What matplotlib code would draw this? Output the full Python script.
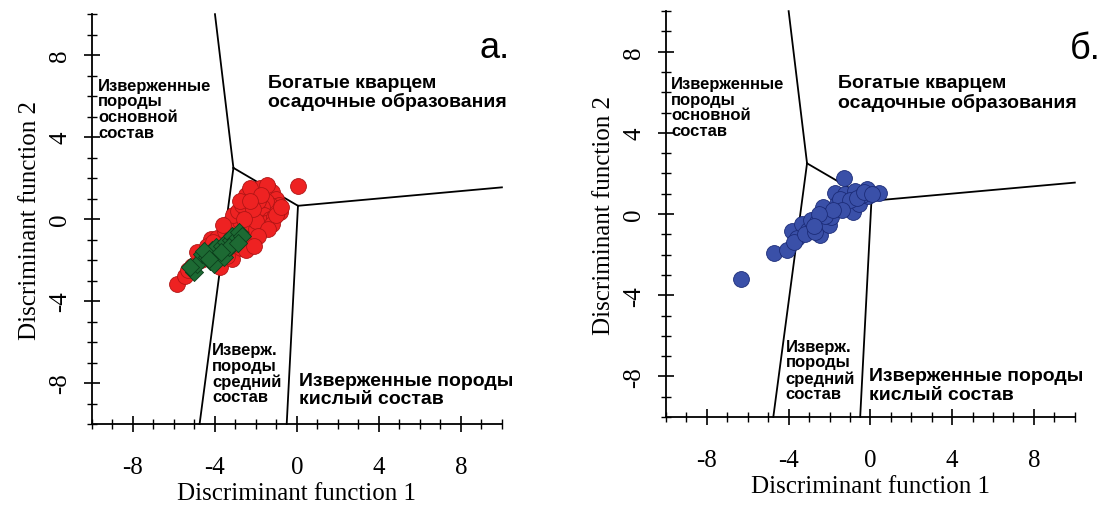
import matplotlib
matplotlib.use("Agg")
import matplotlib.pyplot as plt
from matplotlib.ticker import MultipleLocator

plt.rcParams["axes.unicode_minus"] = False

# field boundaries (discriminant function diagram)
upper_line_x = [-4.0, -3.1]
upper_line_y = [10.0, 2.5]
mid_line_x = [-3.1, 0.05]
mid_line_y = [2.5, 0.65]
right_line_x = [0.05, 10.0]
right_line_y = [0.65, 1.55]
left_low_x = [-3.1, -4.75]
left_low_y = [2.5, -10.0]
right_low_x = [0.05, -0.5]
right_low_y = [0.65, -10.0]

# panel a: red circles
red_x = [-5.85, -5.45, -5.1, -4.9, -4.6, -4.2, -4.4, -3.75, -3.15, -2.75,
         -3.9, -3.5, -3.3, -3.3, -3.0, -2.8, -2.6, -2.4, -2.2, -2.0,
         -3.1, -2.9, -2.5, -2.3, -2.6, -3.2, -2.4, -2.2, -2.0, -1.8,
         -1.6, -1.4, -1.2, -1.0, -0.9, -1.1, -1.3, -1.5, -1.7, -1.9,
         -2.1, -1.6, -1.3, -1.8, -2.7, -2.5, -2.3, -1.9, -1.5, -1.1,
         -0.85, -2.0, -1.2, -4.0, -3.6, -2.9, -1.45, -1.75, -2.15, 0.05,
         -2.8, -2.6, -2.3, -1.0, -0.8, -1.4, -1.9, -2.5, -2.1, -3.6,
         -4.1, -3.4, -4.7, -5.3]
red_y = [-3.17, -2.8, -2.3, -1.6, -1.9, -0.95, -1.3, -2.35, -1.95, -1.4,
         -0.9, -0.6, -1.2, -0.2, -0.5, -0.1, -0.7, -0.3, -0.9, -0.5,
         0.2, 0.4, 0.2, -1.2, -1.0, -0.9, 0.6, 1.0, 1.4, 1.5,
         1.2, 1.5, 1.3, 1.0, 0.7, 0.4, 0.7, 0.9, 0.6, 0.3,
         0.1, 0.2, 0.0, -0.2, 0.7, 1.2, 1.5, 0.9, -0.2, 0.1,
         0.35, -0.1, -0.25, -1.6, -1.7, -1.2, 1.65, 1.2, 0.5, 1.6,
         0.9, 0.0, 0.9, 0.2, 0.6, -0.5, -0.8, -1.5, -1.3, -0.3,
         -1.1, -1.8, -2.0, -2.5]

# panel a: green diamonds
green_x = [-5.03, -4.87, -4.62, -4.38, -4.13, -3.97, -3.81, -3.64, -3.48, -3.24,
           -3.15, -2.99, -2.83, -2.66, -4.22, -4.54, -3.4, -4.05, -3.56, -5.2,
           -3.3, -2.9, -4.3, -3.7]
green_y = [-2.6, -2.19, -1.7, -1.86, -1.53, -1.37, -1.78, -1.29, -1.13, -1.04,
           -0.8, -0.96, -0.64, -0.8, -2.03, -1.54, -1.53, -2.19, -1.86, -2.35,
           -1.35, -1.15, -1.95, -1.6]

# panel b: blue circles
blue_x = [-6.34, -4.74, -4.1, -3.85, -3.6, -3.75, -3.35, -3.05, -3.2, -2.9,
          -2.6, -2.45, -2.7, -2.3, -2.05, -1.95, -2.2, -1.75, -1.65, -1.3,
          -1.25, -1.05, -0.85, -0.75, -0.55, -0.15, -0.1, 0.4, -1.5, -1.0,
          -0.4, -1.4, -1.85, -0.65, -0.3, 0.1, -2.5, -2.75]
blue_y = [-3.22, -1.93, -1.75, -0.85, -1.2, -1.4, -0.5, -0.8, -1.0, -0.3,
          -0.4, -1.05, -0.9, 0.35, -0.55, -0.15, -0.1, 1.05, 0.5, 1.8,
          1.0, 0.35, 0.1, 1.15, 0.5, 1.25, 0.9, 1.05, 0.75, 0.7,
          0.95, 0.2, 0.2, 0.8, 1.1, 1.0, 0.0, -0.6]

ticks = [-8, -4, 0, 4, 8]

SERIF = "Liberation Serif"
SANS = "Liberation Sans"


def draw_fields(ax):
    for xs, ys in [(upper_line_x, upper_line_y), (mid_line_x, mid_line_y),
                   (right_line_x, right_line_y), (left_low_x, left_low_y),
                   (right_low_x, right_low_y)]:
        ax.plot(xs, ys, color="black", lw=1.3, zorder=3, clip_on=False)


def style_axes(ax):
    ax.set_xlim(-10, 10)
    ax.set_ylim(-10, 10)
    for side in ["top", "right"]:
        ax.spines[side].set_visible(False)
    for side in ["left", "bottom"]:
        ax.spines[side].set_linewidth(1.3)
    ax.set_xticks(ticks)
    ax.set_yticks(ticks)
    ax.xaxis.set_minor_locator(MultipleLocator(1))
    ax.yaxis.set_minor_locator(MultipleLocator(1))
    ax.tick_params(which="major", direction="inout", length=12, width=1.2,
                   labelsize=18)
    ax.tick_params(axis="x", which="major", pad=17)
    ax.tick_params(axis="y", which="major", pad=9)
    ax.tick_params(which="minor", direction="inout", length=7, width=1.0)
    for lab in ax.get_xticklabels() + ax.get_yticklabels():
        lab.set_family(SERIF)
    for lab in ax.get_yticklabels():
        lab.set_rotation(90)
        lab.set_va("center")
    ax.set_xlabel("Discriminant function 1", family=SERIF, fontsize=18,
                  labelpad=3)
    ax.set_ylabel("Discriminant function 2", family=SERIF, fontsize=18,
                  labelpad=6)


def add_labels(ax, pos):
    kw = dict(family=SANS, fontweight="bold", ha="left", va="top")
    ax.text(pos[0][0], pos[0][1], "Изверженные\nпороды\nосновной\nсостав",
            fontsize=12, linespacing=1.05, **kw)
    ax.text(pos[1][0], pos[1][1], "Богатые кварцем\nосадочные образования",
            fontsize=14, linespacing=1.1, **kw)
    ax.text(pos[2][0], pos[2][1], "Изверж.\nпороды\nсредний\nсостав",
            fontsize=12, linespacing=1.05, **kw)
    ax.text(pos[3][0], pos[3][1], "Изверженные породы\nкислый состав",
            fontsize=14, linespacing=1.1, **kw)


fig = plt.figure(figsize=(10.99, 5.06), dpi=100)
ax1 = fig.add_axes([0.0837, 0.160, 0.373, 0.810])
ax2 = fig.add_axes([0.606, 0.174, 0.372, 0.802])

# panel a
draw_fields(ax1)
ax1.scatter(red_x, red_y, s=130, marker="o", facecolor="#ee2222",
            edgecolor="#b01515", linewidth=0.6, zorder=4)
ax1.scatter(green_x, green_y, s=85, marker="D", facecolor="#1d6a33",
            edgecolor="#0c3f1c", linewidth=0.6, zorder=5)
style_axes(ax1)
add_labels(ax1, [(-9.7, 6.9), (-1.4, 7.1), (-4.15, -6.0), (0.1, -7.45)])
ax1.text(8.9, 7.9, "а.", family=SANS, fontsize=26, ha="left",
         va="baseline")

# panel b
draw_fields(ax2)
ax2.scatter(blue_x, blue_y, s=130, marker="o", facecolor="#3a50a8",
            edgecolor="#1c2c78", linewidth=0.6, zorder=4)
style_axes(ax2)
add_labels(ax2, [(-9.75, 6.8), (-1.6, 6.9), (-4.15, -6.15), (-0.05, -7.55)])
ax2.text(9.75, 7.7, "б.", family=SANS, fontsize=26, ha="left",
         va="baseline", clip_on=False)

fig.savefig("out.png", dpi=100)
